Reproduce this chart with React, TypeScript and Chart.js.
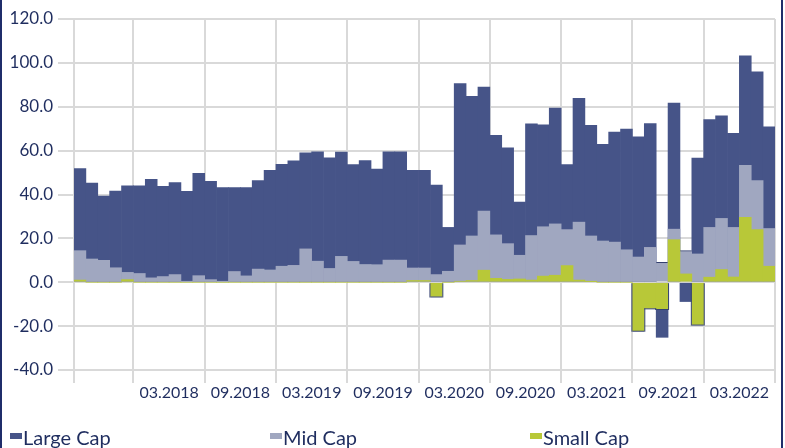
import React, { useEffect, useRef } from "react";
import { Chart, registerables } from "chart.js";

Chart.register(...registerables);

const categories = [
  "10.2017", "11.2017", "12.2017",
  "01.2018", "02.2018", "03.2018", "04.2018", "05.2018", "06.2018", "07.2018", "08.2018", "09.2018", "10.2018", "11.2018", "12.2018",
  "01.2019", "02.2019", "03.2019", "04.2019", "05.2019", "06.2019", "07.2019", "08.2019", "09.2019", "10.2019", "11.2019", "12.2019",
  "01.2020", "02.2020", "03.2020", "04.2020", "05.2020", "06.2020", "07.2020", "08.2020", "09.2020", "10.2020", "11.2020", "12.2020",
  "01.2021", "02.2021", "03.2021", "04.2021", "05.2021", "06.2021", "07.2021", "08.2021", "09.2021", "10.2021", "11.2021", "12.2021",
  "01.2022", "02.2022", "03.2022", "04.2022", "05.2022", "06.2022", "07.2022", "08.2022",
];

const tickLabels = ["03.2018", "09.2018", "03.2019", "09.2019", "03.2020", "09.2020", "03.2021", "09.2021", "03.2022"];

const largeCap = [
  51.8, 45.2, 39.3, 41.6, 44.0, 44.0, 46.9, 43.7, 45.4, 41.4,
  49.6, 46.0, 43.1, 43.2, 43.1, 46.4, 51.0, 53.7, 55.4, 59.0,
  59.5, 56.7, 59.3, 53.6, 55.5, 51.6, 59.4, 59.4, 51.0, 51.0,
  44.3, 25.0, 90.6, 84.8, 89.0, 67.0, 61.3, 36.5, 72.2, 71.8,
  79.4, 53.6, 83.8, 71.5, 62.9, 68.5, 69.8, 66.3, 72.3, -25.1,
  81.7, -8.8, 56.6, 74.1, 75.9, 67.9, 103.2, 95.9, 70.8,
];

const midCap = [
  14.4, 10.6, 10.0, 6.6, 4.5, 4.0, 2.0, 2.6, 3.5, 0.3,
  3.0, 1.2, 0.2, 4.9, 2.9, 6.0, 5.6, 7.3, 7.7, 15.2,
  9.6, 6.3, 11.8, 9.5, 8.1, 8.0, 10.1, 10.1, 6.5, 6.5,
  3.5, 5.0, 17.0, 21.1, 32.4, 21.6, 17.6, 12.3, 21.3, 25.3,
  26.6, 24.0, 27.4, 21.1, 18.8, 18.3, 14.8, 11.5, 15.9, 9.1,
  24.2, 14.4, 12.9, 25.0, 29.1, 25.0, 53.3, 46.4, 24.5,
];

const smallCap = [
  1.0, 0, 0, 0, 1.2, 0, 0, 0, 0, 0,
  0, 0, 0, 0, 0, 0, 0, 0, 0, 0,
  0, 0, 0, 0, 0, 0, 0, 0, 0.8, 0.8,
  -6.5, 0, 0.4, 0.8, 5.5, 1.8, 1.3, 1.5, 1.0, 2.8,
  3.2, 7.6, 1.0, 0.3, 0, 0, 0, -22.1, -11.9, -12.2,
  19.4, 3.8, -19.3, 2.3, 5.8, 2.4, 29.6, 24.0, 7.3,
];

const NAVY_TEXT = "#1f2d5f";
const LARGE = "#465488";
const MID = "#a0a7c0";
const SMALL = "#b8c838";
const OUTLINE = "#34406f";
const GRID = "#d9d9d9";
const FONT = "Lato, 'Open Sans', sans-serif";

// Outline around the negative Small Cap bars, traced from the bar elements the library laid out.
const negativeOutline = {
  id: "negativeOutline",
  afterDatasetsDraw(chart: any) {
    const meta = chart.getDatasetMeta(2);
    const els = meta.data;
    const ctx = chart.ctx;
    ctx.save();
    ctx.strokeStyle = OUTLINE;
    ctx.lineWidth = 1;
    ctx.beginPath();
    for (let i = 0; i < els.length; i++) {
      if (!(smallCap[i] < 0)) continue;
      const el = els[i];
      const left = el.x - el.width / 2;
      const right = el.x + el.width / 2;
      const bottom = el.y;
      const base = el.base;
      const prevBottom = i > 0 && smallCap[i - 1] < 0 ? els[i - 1].y : base;
      const nextBottom = i < els.length - 1 && smallCap[i + 1] < 0 ? els[i + 1].y : base;
      ctx.moveTo(left, bottom + 0.5);
      ctx.lineTo(right, bottom + 0.5);
      if (bottom > prevBottom) {
        ctx.moveTo(left - 0.5, prevBottom);
        ctx.lineTo(left - 0.5, bottom + 1);
      }
      if (bottom > nextBottom) {
        ctx.moveTo(right + 0.5, nextBottom);
        ctx.lineTo(right + 0.5, bottom + 1);
      }
    }
    ctx.stroke();
    ctx.restore();
  },
};

export default function App() {
  const ref = useRef<HTMLCanvasElement | null>(null);

  useEffect(() => {
    if (!ref.current) return;
    const chart = new Chart(ref.current, {
      type: "bar",
      data: {
        labels: categories,
        datasets: [
          {
            label: "Large Cap",
            data: largeCap,
            backgroundColor: LARGE,
            borderWidth: 0,
            order: 3,
            grouped: false,
            barPercentage: 1,
            categoryPercentage: 1,
          },
          {
            label: "Mid Cap",
            data: midCap,
            backgroundColor: MID,
            borderColor: OUTLINE,
            borderWidth: (ctx: any) => (largeCap[ctx.dataIndex] < 0 ? { top: 1, left: 0, right: 0, bottom: 0 } : 0),
            borderSkipped: "start",
            order: 2,
            grouped: false,
            barPercentage: 1,
            categoryPercentage: 1,
          },
          {
            label: "Small Cap",
            data: smallCap,
            backgroundColor: SMALL,
            borderWidth: 0,
            order: 1,
            grouped: false,
            barPercentage: 1,
            categoryPercentage: 1,
          },
        ] as any,
      },
      options: {
        responsive: false,
        animation: false,
        devicePixelRatio: 1,
        layout: { padding: { left: 0, right: 10, top: 19, bottom: 0 } },
        plugins: {
          legend: { display: false },
          tooltip: { enabled: false },
        },
        scales: {
          x: {
            type: "category",
            offset: true,
            z: 1,
            border: { display: false },
            grid: {
              offset: true,
              drawTicks: true,
              tickLength: 13,
              lineWidth: 2,
              color: (ctx: any) => {
                const i = ctx.index;
                if (i === undefined || i === null) return GRID;
                if (i === 0 || (i - 5) % 6 === 0) return GRID;
                return "rgba(0,0,0,0)";
              },
            },
            ticks: {
              autoSkip: false,
              maxRotation: 0,
              minRotation: 0,
              labelOffset: 6,
              padding: 0,
              color: NAVY_TEXT,
              font: { family: FONT, size: 16 },
              callback: (_v: any, index: number) => {
                if (index >= 7 && (index - 7) % 6 === 0) {
                  return tickLabels[(index - 7) / 6] ?? "";
                }
                return "";
              },
            },
            afterFit: (scale: any) => {
              scale.height = 78;
            },
          },
          y: {
            min: -40,
            max: 120,
            z: 1,
            border: { display: false },
            grid: {
              color: GRID,
              lineWidth: 2,
              drawTicks: true,
              tickLength: 16,
            },
            ticks: {
              stepSize: 20,
              padding: 5,
              color: NAVY_TEXT,
              font: { family: FONT, size: 17 },
              callback: (v: any) => Number(v).toFixed(1),
            },
            afterFit: (scale: any) => {
              scale.width = 74;
            },
          },
        },
      } as any,
      plugins: [negativeOutline],
    });
    return () => chart.destroy();
  }, []);

  const legendItems = [
    { label: "Large Cap", color: LARGE, x: 10 },
    { label: "Mid Cap", color: MID, x: 270 },
    { label: "Small Cap", color: SMALL, x: 530 },
  ];

  return (
    <div
      style={{
        position: "absolute",
        left: 0,
        top: 0,
        width: 785,
        height: 448,
        overflow: "hidden",
        background: "#ffffff",
      }}
    >
      <canvas ref={ref} width={785} height={448} style={{ position: "absolute", left: 0, top: 0 }} />
      <div style={{ position: "absolute", left: 0, top: 0, width: 2, height: 448, background: "#1f2d6a" }} />
      <div style={{ position: "absolute", left: 781, top: 0, width: 2, height: 448, background: "#1f2d6a" }} />
      {legendItems.map((it) => (
        <div key={it.label}>
          <div
            style={{
              position: "absolute",
              left: it.x,
              top: 433,
              width: 12,
              height: 6,
              background: it.color,
            }}
          />
          <span
            style={{
              position: "absolute",
              left: it.x + 13,
              top: 427,
              fontFamily: FONT,
              fontSize: 20,
              lineHeight: "20px",
              color: NAVY_TEXT,
              whiteSpace: "nowrap",
            }}
          >
            {it.label}
          </span>
        </div>
      ))}
    </div>
  );
}
